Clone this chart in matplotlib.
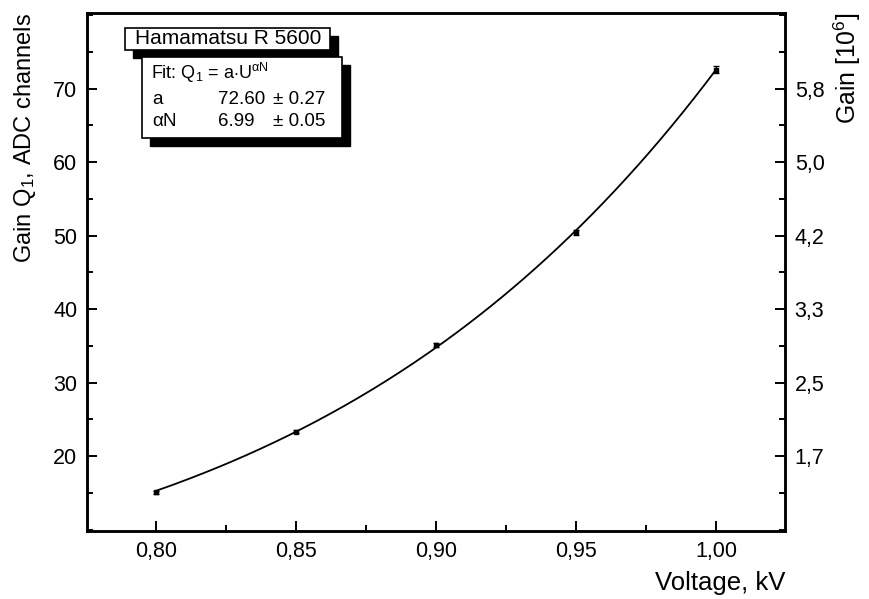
import matplotlib
matplotlib.use('Agg')
import matplotlib.pyplot as plt
from matplotlib.patches import Rectangle
from matplotlib.ticker import MultipleLocator, FixedLocator, FixedFormatter
import numpy as np

plt.rcParams['font.family'] = ['Liberation Sans', 'DejaVu Sans']
plt.rcParams['mathtext.fontset'] = 'custom'
plt.rcParams['mathtext.rm'] = 'Liberation Sans'
plt.rcParams['mathtext.it'] = 'Liberation Sans'

# measured points
voltage = [0.80, 0.85, 0.90, 0.95, 1.00]
gain_q1 = [15.05, 23.3, 35.1, 50.45, 72.6]
gain_err = [0.2, 0.2, 0.25, 0.35, 0.5]

# fit parameters  Q1 = a * U^(alpha N)
fit_a = 72.60
fit_a_err = 0.27
fit_an = 6.99
fit_an_err = 0.05

# right axis labels (gain in 10^6) at the left axis major ticks
right_ticks = [20, 30, 40, 50, 60, 70]
right_labels = ['1,7', '2,5', '3,3', '4,2', '5,0', '5,8']

W, H = 869, 599
fig = plt.figure(figsize=(W / 100, H / 100), dpi=100)
ax = fig.add_axes([87 / W, 1 - 531 / H, (785 - 87) / W, (531 - 13) / H])

u = np.linspace(voltage[0], voltage[-1], 200)
ax.plot(u, fit_a * u ** fit_an, color='black', lw=1.3)
ax.errorbar(voltage, gain_q1, yerr=gain_err, fmt='s', ms=3, color='black',
            ecolor='black', elinewidth=1, capsize=2)

ax.set_xlim(0.7754, 1.0246)
ax.set_ylim(9.8, 80.3)
ax.xaxis.set_minor_locator(MultipleLocator(0.025))
ax.yaxis.set_minor_locator(MultipleLocator(5))
ax.set_xticks([0.80, 0.85, 0.90, 0.95, 1.00])
ax.set_xticklabels(['0,80', '0,85', '0,90', '0,95', '1,00'])
ax.set_yticks([20, 30, 40, 50, 60, 70])
ax.tick_params(which='both', direction='in', width=1.4, labelsize=15.5, pad=7)
ax.tick_params(which='major', length=7)
ax.tick_params(which='minor', length=4)
for s in ax.spines.values():
    s.set_linewidth(1.8)

ax.set_xlabel('Voltage, kV', fontsize=18.5, loc='right', labelpad=7)
ax.set_ylabel('Gain Q$_1$, ADC channels', fontsize=17, loc='top', labelpad=11)

ax2 = ax.twinx()
ax2.set_ylim(ax.get_ylim())
ax2.yaxis.set_major_locator(FixedLocator(right_ticks))
ax2.yaxis.set_major_formatter(FixedFormatter(right_labels))
ax2.yaxis.set_minor_locator(MultipleLocator(5))
ax2.tick_params(which='both', direction='in', width=1.4, labelsize=15.5, pad=7)
ax2.tick_params(which='major', length=7)
ax2.tick_params(which='minor', length=4)
ax2.set_ylabel('Gain [10$^6$]', fontsize=17.8, loc='top', labelpad=5)
for s in ax2.spines.values():
    s.set_linewidth(1.8)


def box(x0, y0, x1, y1, sh=8):
    # shadow then white box, pixel coords from the top-left
    fig.patches.append(Rectangle(((x0 + sh) / W, 1 - (y1 + sh) / H), (x1 - x0) / W,
                                 (y1 - y0) / H, transform=fig.transFigure,
                                 facecolor='black', edgecolor='black', zorder=5))
    fig.patches.append(Rectangle((x0 / W, 1 - y1 / H), (x1 - x0) / W, (y1 - y0) / H,
                                 transform=fig.transFigure, facecolor='white',
                                 edgecolor='black', lw=1.2, zorder=6))


box(142, 57, 342, 138)
box(125, 28, 330, 50)
fig.text(228 / W, 1 - 39 / H, 'Hamamatsu R 5600', fontsize=15, ha='center',
         va='center', zorder=7)
fig.text(151 / W, 1 - 73 / H, r'Fit: Q$_1$ = a$\cdot$U$^{\alpha N}$', fontsize=13,
         va='center', zorder=7)
rows = [('a', '%.2f' % fit_a, '± %.2f' % fit_a_err),
        (r'$\alpha$N', '%.2f' % fit_an, '± %.2f' % fit_an_err)]
for i, (name, val, err) in enumerate(rows):
    y = 1 - (100 + 22 * i) / H
    fig.text(152 / W, y, name, fontsize=13.5, va='center', zorder=7)
    fig.text(218 / W, y, val, fontsize=13.5, va='center', zorder=7)
    fig.text(273 / W, y, err, fontsize=13.5, va='center', zorder=7)

fig.savefig('out.png', dpi=100)
